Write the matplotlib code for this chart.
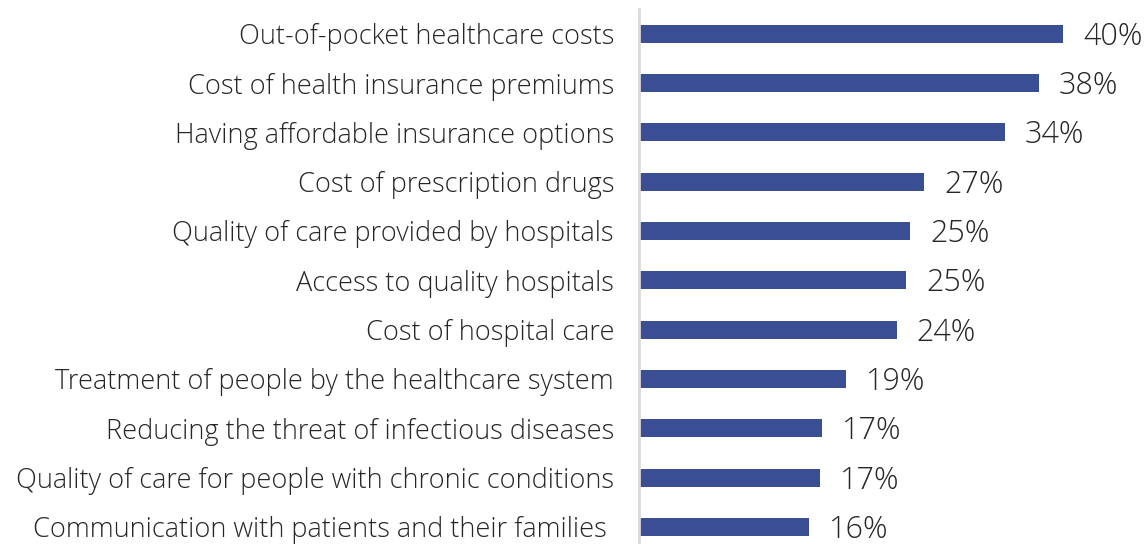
import numpy as np
import matplotlib
matplotlib.use("Agg")
import matplotlib.pyplot as plt

# categories, top to bottom
categories = [
    "Out-of-pocket healthcare costs",
    "Cost of health insurance premiums",
    "Having affordable insurance options",
    "Cost of prescription drugs",
    "Quality of care provided by hospitals",
    "Access to quality hospitals",
    "Cost of hospital care",
    "Treatment of people by the healthcare system",
    "Reducing the threat of infectious diseases",
    "Quality of care for people with chronic conditions",
    "Communication with patients and their families ",
]
# bar lengths (percent)
values = [40.0, 37.7, 34.5, 26.9, 25.6, 25.2, 24.3, 19.5, 17.3, 17.1, 16.0]
# printed labels
value_labels = ["40%", "38%", "34%", "27%", "25%", "25%", "24%", "19%", "17%", "17%", "16%"]

bar_color = "#3a4f93"
text_color = "#262626"
plt.rcParams['font.family'] = ['Open Sans', 'DejaVu Sans']

fig = plt.figure(figsize=(11.48, 5.44), dpi=100)
ax = fig.add_axes([639 / 1148, 0, 1 - 639 / 1148, 1 - 9 / 544])

y = np.arange(len(categories))
ax.barh(y, values, height=0.365, color=bar_color)

for yi, v, lab in zip(y, values, value_labels):
    ax.annotate(lab, (v, yi), xytext=(20, -3), textcoords="offset pixels",
                ha="left", va="center", fontsize=22, weight="light",
                color=text_color)

ax.set_yticks(y)
ax.set_yticklabels(categories, fontsize=19.5, weight="light", color=text_color)
ax.tick_params(axis="y", length=0, pad=18)
ax.set_xticks([])
ax.set_xlim(0, 509 / 10.6)
ax.set_ylim(len(categories) - 1 + 0.345, -0.5)

for s in ["top", "right", "bottom"]:
    ax.spines[s].set_visible(False)
ax.spines["left"].set_color("#d9d9d9")
ax.spines["left"].set_linewidth(2)

fig.savefig("out.png", dpi=100)
